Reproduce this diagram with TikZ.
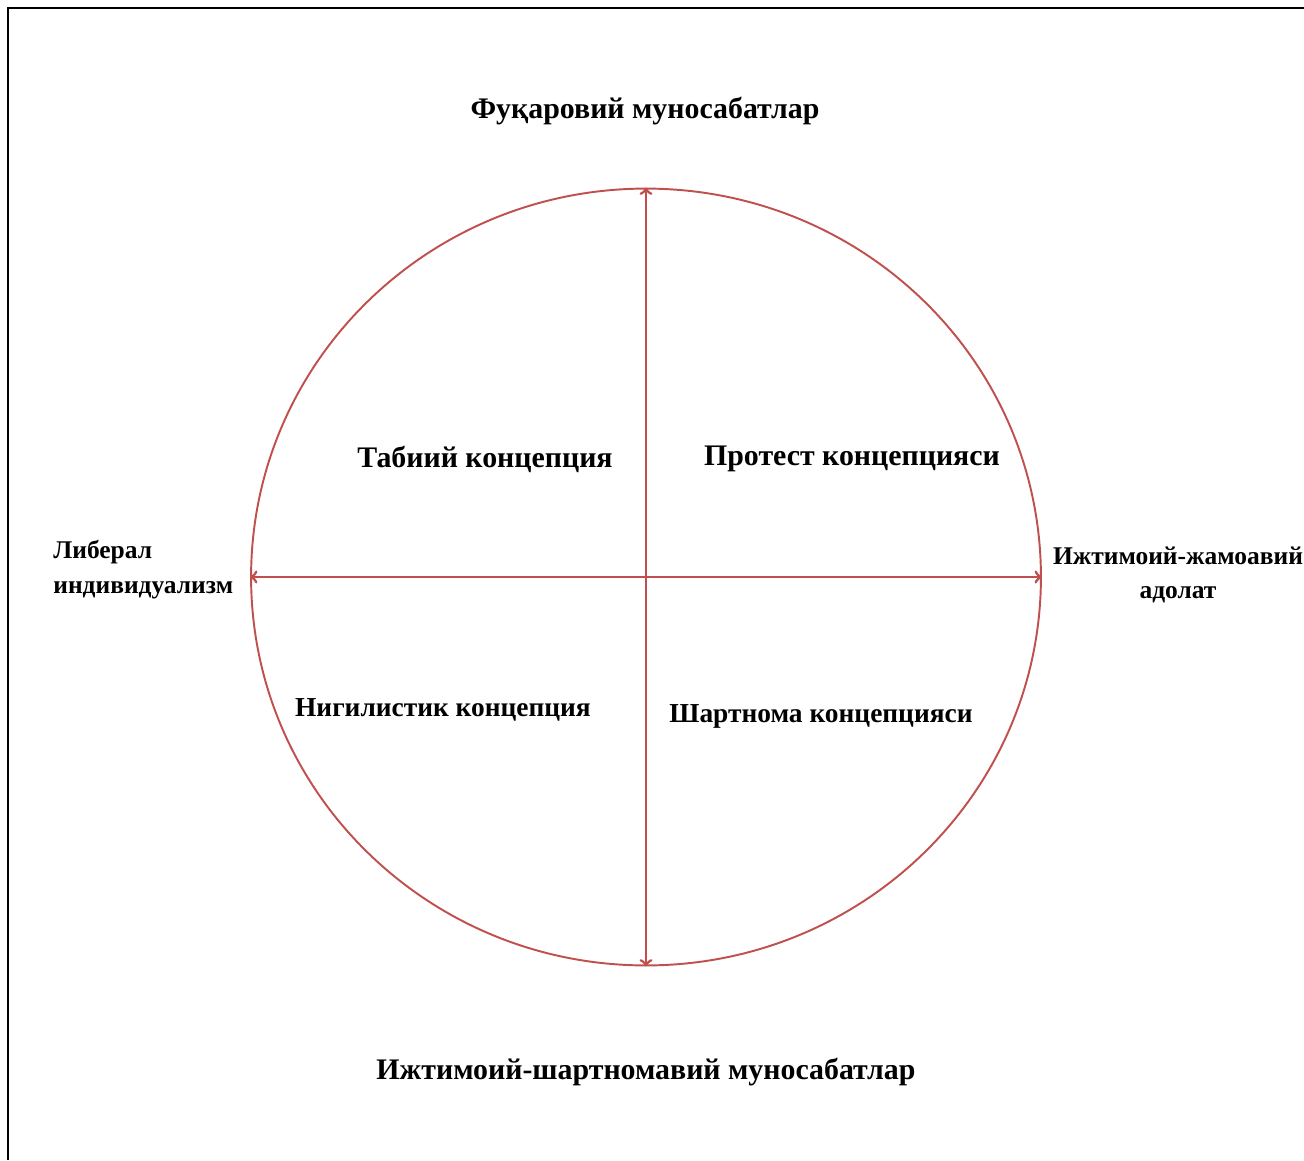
\documentclass[tikz,border=0pt]{standalone}
\usepackage{fontspec}
\setmainfont{Liberation Serif}
\usetikzlibrary{shapes.geometric}

\definecolor{ovalred}{HTML}{C0504D}

\tikzset{
	label text/.style = {font = \bfseries\fontsize{17}{20}\selectfont, inner sep = 0pt},
	lower text/.style = {label text, font = \bfseries\fontsize{15.6}{19}\selectfont},
	side text/.style = {label text, font = \bfseries\fontsize{14.5}{19.8}\selectfont},
	axis line/.style = {<->, ovalred, line width = 1.6pt}
}

\begin{document}
\begin{tikzpicture}[> = to, x = 0.02cm, y = -0.02cm]

	% Page and frame
	
	\useasboundingbox (0, 0) rectangle (1304, 1160);
	\draw [line width = 1.6pt] (8, 1160) -- (8, 8) -- (1304, 8);
	
	% Oval with the two axes
	
	\node (oval) [ellipse, draw = ovalred, line width = 1.1pt, inner sep = 0pt,
		minimum width = 15.8cm, minimum height = 15.54cm] at (646, 577) {};
	
	\draw [axis line] (oval.north) -- (oval.south);
	\draw [axis line] (oval.west) -- (oval.east);
	
	% Poles
	
	\node (top) [label text] at (645, 111) {Фуқаровий муносабатлар};
	\node (bottom) [label text] at (646, 1072) {Ижтимоий-шартномавий муносабатлар};
	\node (left) [side text, align = left, anchor = west] at (53, 570) {Либерал\\индивидуализм};
	\node (right) [side text, align = center] at (1178, 575) {Ижтимоий-жамоавий\\адолат};
	
	% Quadrants
	
	\node (natural) [label text] at (485, 459) {Табиий концепция};
	\node (protest) [label text] at (852, 459) {Протест концепцияси};
	\node (nihil) [lower text] at (443, 710) {Нигилистик концепция};
	\node (contract) [lower text] at (821, 716) {Шартнома концепцияси};

\end{tikzpicture}
\end{document}
